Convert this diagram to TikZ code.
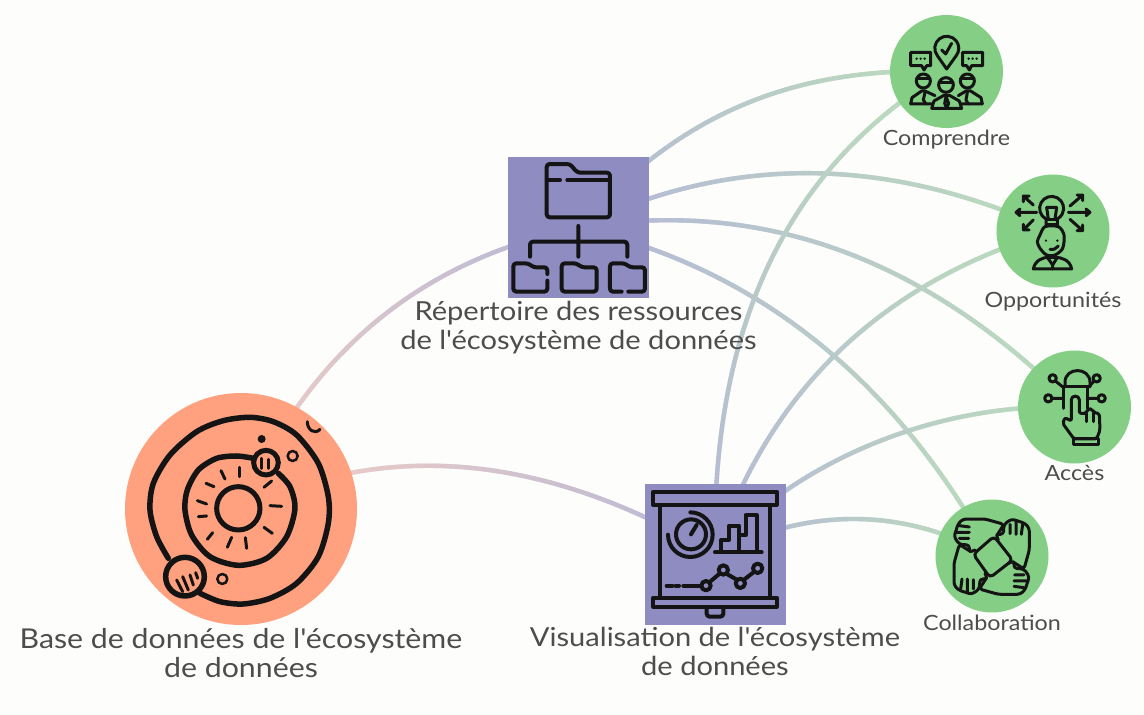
\documentclass[tikz,border=0pt]{standalone}
\usepackage{fontspec}
\newfontfamily\labelfont{Lato}[FakeStretch=1.11]
\definecolor{pagebg}{HTML}{FDFDFB}
\definecolor{dbfill}{HTML}{FFA07F}
\definecolor{toolfill}{HTML}{8F8CC1}
\definecolor{goalfill}{HTML}{85CE85}
\definecolor{dbline}{HTML}{F6CFC3}
\definecolor{toolline}{HTML}{B6B8D7}
\definecolor{goalline}{HTML}{BBDDBB}
\definecolor{ink}{HTML}{141414}
\definecolor{labelgrey}{HTML}{4D4D4D}
\usetikzlibrary{positioning,backgrounds,decorations.markings}
\tikzset{
  dbnode/.style={circle,fill=dbfill,minimum size=232pt,inner sep=0pt,outer sep=0pt},
  toolnode/.style={rectangle,fill=toolfill,minimum size=141pt,inner sep=0pt,outer sep=0pt},
  goalnode/.style={circle,fill=goalfill,minimum size=113pt,inner sep=0pt,outer sep=0pt},
  biglabel/.style={align=center,text=labelgrey,font=\labelfont\fontsize{26.2}{29}\selectfont,inner sep=0pt},
  hugelabel/.style={biglabel,font=\labelfont\fontsize{27.3}{29}\selectfont},
  smalllabel/.style={align=center,text=labelgrey,font=\labelfont\fontsize{21}{24}\selectfont,inner sep=0pt},
  fadelink/.style 2 args={
    decoration={markings,mark=between positions 0 and 1 step 1.5pt with {
      \pgfmathsetmacro\mixpct{min(100,100*(\pgfkeysvalueof{/pgf/decoration/mark info/distance from start}/\pgfdecoratedpathlength))}
      \fill[color=#2!\mixpct!#1] (-1.2pt,-2.2pt) rectangle (1.2pt,2.2pt);
    }},
    postaction={decorate}},
  ic/.style={draw=ink,line width=4pt,line cap=round,line join=round},
  icthin/.style={ic,line width=3pt},
  zoomed/.style={shift={(#1)},x=0.3333pt,y=-0.3333pt}
}
\begin{document}
\begin{tikzpicture}[x=1pt,y=-1pt]
  \useasboundingbox (0,0) rectangle (1144,715);
  \node[dbnode] (db) at (241,509) {};
  \node[toolnode] (repo) at (578.5,227.5) {};
  \node[toolnode] (viz) at (715,554) {};
  \node[goalnode] (comp) at (946.5,71.5) {};
  \node[goalnode] (opp) at (1053,231) {};
  \node[goalnode] (acc) at (1074.5,407) {};
  \node[goalnode] (collab) at (992,556) {};
  \node[hugelabel,below=3pt of db] (dblabel) {Base de données de l'écosystème\\de données};
  \node[biglabel,below=3pt of repo] (repolabel) {Répertoire des ressources\\de l'écosystème de données};
  \node[biglabel,below=2pt of viz] (vizlabel) {Visualisation de l'écosystème\\de données};
  \node[smalllabel,below=2pt of comp] (complabel) {Comprendre};
  \node[smalllabel,below=4pt of opp] (opplabel) {Opportunités};
  \node[smalllabel,below=2pt of acc] (acclabel) {Accès};
  \node[smalllabel,below=2pt of collab] (collablabel) {Collaboration};
  \begin{scope}[on background layer]
    \fill[pagebg] (0,0) rectangle (1144,715);
    \path[fadelink={dbline}{toolline}] (db.center) .. controls (307,354) and (420,260) .. (repo.center);
    \path[fadelink={dbline}{toolline}] (db.center) .. controls (388,439) and (546,454) .. (viz.center);
    \path[fadelink={toolline}{goalline}] (repo.center) .. controls (678,116) and (790,66) .. (comp.center);
    \path[fadelink={toolline}{goalline}] (repo.center) .. controls (729,154) and (887,155) .. (opp.center);
    \path[fadelink={toolline}{goalline}] (repo.center) .. controls (762,198) and (927,258) .. (acc.center);
    \path[fadelink={toolline}{goalline}] (repo.center) .. controls (756,268) and (894,378) .. (collab.center);
    \path[fadelink={toolline}{goalline}] (viz.center) .. controls (711,326) and (788,165) .. (comp.center);
    \path[fadelink={toolline}{goalline}] (viz.center) .. controls (769,390) and (882,282) .. (opp.center);
    \path[fadelink={toolline}{goalline}] (viz.center) .. controls (785,470) and (925,402) .. (acc.center);
    \path[fadelink={toolline}{goalline}] (viz.center) .. controls (809,507) and (902,507) .. (collab.center);
  \end{scope}
  % planets
  \begin{scope}[zoomed={110,380}]
    \draw[ic,line width=5.5pt] plot[smooth] coordinates {(270,640) (330,665) (400,672) (480,655) (560,610) (625,530) (655,430) (655,350) (625,250) (560,165) (490,125) (420,112) (340,122) (260,155) (180,225) (130,310) (120,390) (140,470) (175,535)};
    \draw[ic,line width=5.5pt] plot[smooth] coordinates {(430,235) (380,228) (320,235) (265,270) (232,330) (225,390) (245,465) (300,530) (385,556) (470,535) (530,470) (555,385) (540,320) (505,280)};
    \draw[ic,line width=5pt] (385,385) circle (65);
    \draw[ic,line width=5pt,fill=dbfill] (468,248) circle (37);
    \draw[ic,line width=5.5pt,fill=dbfill] (225,590) circle (58);
    \foreach \xa/\ya/\xb/\yb in {388/262/388/290,333/272/345/297,288/310/312/320,262/362/290/372,265/410/290/408,292/478/308/458,352/502/365/472,410/505/406/473,487/460/462/442,480/377/515/379,462/322/485/303,455/235/455/265,475/238/475/265,200/600/218/635,218/590/235/630,240/585/250/615,257/578/263/595}
      \draw[ic,line width=3pt] (\xa,\ya) -- (\xb,\yb);
    \fill[ink] (455,177) circle (12);
    \draw[ic,line width=2.5pt] (548,228) circle (15);
    \draw[ic,line width=2.5pt] (337,597) circle (15);
    \draw[ic,line width=3pt] (592,125) .. controls (592,150) and (615,165) .. (630,148);
  \end{scope}
  % folder tree
  \begin{scope}[zoomed={500,150},rounded corners=3pt]
    \draw[ic] (140,90) -- (140,42) -- (210,42) -- (232,68) -- (330,68) -- (330,202) -- (140,202) -- cycle;
    \draw[ic] (142,90) -- (180,90) (202,90) -- (328,90);
    \draw[ic] (235,228) -- (235,320) (90,320) -- (90,275) -- (382,275) -- (382,320);
    \draw[ic] (142,372) -- (142,352) -- (100,352) -- (85,340) -- (40,340) -- (40,425) -- (142,425) -- (142,392);
    \draw[ic] (185,340) -- (230,340) -- (245,352) -- (290,352) -- (290,425) -- (185,425) -- cycle;
    \draw[ic] (365,425) -- (330,425) -- (330,340) -- (375,340) -- (390,352) -- (435,352) -- (435,425) -- (385,425);
  \end{scope}
  % projection screen
  \begin{scope}[zoomed={635,475}]
    \draw[ic] (55,50) rectangle (425,90);
    \draw[ic] (55,368) rectangle (425,395);
    \draw[ic] (75,90) -- (75,368) (405,90) -- (405,368);
    \draw[ic,rounded corners=3pt] (215,400) -- (215,425) -- (265,425) -- (265,400);
    \draw[ic] (168,178) circle (45);
    \draw[ic] (168,178) -- (185,150);
    \draw[ic] (166,112) arc (-90:180:67);
    \draw[ic] (240,232) -- (380,232);
    \draw[ic] (258,230) -- (258,195) -- (282,195) -- (282,152) -- (312,152) -- (312,230);
    \draw[ic] (315,180) -- (332,180) -- (332,120) -- (365,120) -- (365,230);
    \draw[ic] (95,332) -- (112,332) (122,332) -- (132,332) (145,332) -- (199,332);
    \draw[ic] (213,332) circle (14) (265,285) circle (14) (316,325) circle (14) (368,280) circle (14);
    \draw[ic] (223,322) -- (255,295) (274,296) -- (307,315) (326,315) -- (358,290);
  \end{scope}
  % meeting
  \begin{scope}[zoomed={880,5}]
    \draw[icthin] (200,192) -- (172,152) arc (142:398:36) -- cycle;
    \draw[icthin] (185,135) -- (197,147) -- (215,115);
    \draw[icthin] (92,142) -- (152,142) -- (152,182) -- (140,182) -- (132,195) -- (125,182) -- (92,182) -- cycle;
    \draw[icthin] (248,142) -- (308,142) -- (308,182) -- (275,182) -- (268,195) -- (260,182) -- (248,182) -- cycle;
    \foreach \dotx in {110,122,134,266,278,290}
      \fill[ink] (\dotx,161) circle (4);
    \draw[icthin,fill=goalfill] (130,228) circle (21) (262,228) circle (21);
    \draw[icthin] (110,220) -- (150,220) (242,220) -- (282,220);
    \draw[icthin] (92,297) -- (96,278) -- (125,258) -- (135,258) -- (165,272) (92,297) -- (155,297);
    \draw[icthin] (307,297) -- (303,278) -- (272,258) -- (258,258) -- (235,272) (307,297) -- (245,297);
    \draw[icthin] (135,262) -- (130,285) -- (138,297) (262,262) -- (258,285) -- (265,297);
    \draw[icthin,fill=goalfill] (155,310) -- (162,288) -- (190,272) -- (210,272) -- (238,288) -- (245,310) -- cycle;
    \draw[icthin,fill=goalfill] (198,240) circle (22);
    \draw[icthin] (177,232) -- (219,232);
    \draw[icthin] (198,275) -- (194,295) -- (200,310) -- (206,295) -- cycle;
  \end{scope}
  % idea
  \begin{scope}[zoomed={990,170}]
    \draw[icthin] (168,147) arc (118:422:36) -- (202,180) -- (168,180) -- cycle;
    \draw[icthin] (168,150) -- (202,150) (170,165) -- (200,165);
    \draw[icthin] (175,148) -- (170,112) (195,148) -- (200,112) (170,112) -- (200,112);
    \draw[icthin,fill=goalfill] plot[smooth cycle] coordinates {(150,195) (165,170) (205,170) (222,195) (218,235) (195,255) (170,255) (150,235) (142,215)};
    \fill[ink] (168,212) circle (4) (202,212) circle (4);
    \draw[icthin] (180,238) .. controls (190,240) and (200,236) .. (205,228);
    \draw[icthin] (130,297) .. controls (135,270) and (160,262) .. (175,262) -- (195,262) .. controls (215,262) and (240,270) .. (245,297) -- cycle;
    \draw[icthin] (172,262) -- (188,285) -- (202,262) (188,285) -- (188,297);
    \foreach \xa/\ya/\xb/\yb/\xc/\yc/\xd/\yd in {140/127/78/127/90/117/90/137, 130/105/100/78/100/95/117/78, 130/150/100/180/100/163/117/180, 235/127/300/127/288/117/288/137, 240/108/278/75/261/75/278/92, 240/148/278/182/261/182/278/165}
      \draw[icthin] (\xa,\ya) -- (\xb,\yb) (\xc,\yc) -- (\xb,\yb) -- (\xd,\yd);
  \end{scope}
  % access
  \begin{scope}[zoomed={1010,345}]
    \draw[icthin] (165,125) -- (165,112) .. controls (165,65) and (240,65) .. (240,112) -- (240,125);
    \draw[icthin] (160,125) -- (240,125) (160,125) -- (160,190) (232,125) -- (232,190);
    \draw[icthin] (128,100) circle (11) (260,100) circle (11) (115,160) circle (11) (275,160) circle (11);
    \draw[icthin] (136,108) -- (160,127) (252,108) -- (235,127) (126,160) -- (160,160) (232,160) -- (264,160);
    \draw[icthin,fill=goalfill,rounded corners=2pt] (184,228) -- (184,170) .. controls (184,150) and (208,150) .. (208,170) -- (208,205) -- (230,205) -- (232,192) -- (248,192) -- (250,203) -- (268,205) -- (270,255) -- (260,282) -- (192,282) -- (158,235) -- (165,218) -- cycle;
    \draw[icthin] (230,205) -- (230,230) (250,203) -- (250,230);
    \draw[icthin] (190,282) rectangle (264,298);
  \end{scope}
  % hands
  \begin{scope}[zoomed={930,495}]
    \draw[icthin,rounded corners=4pt] (192,124) -- (248,195) -- (180,248) -- (130,178) -- cycle;
    \foreach \turn in {0,-90,-180,-270}{
      \begin{scope}[rotate around={\turn:(185,185)}]
        \draw[icthin,rounded corners=3pt] (200,122) -- (222,88) -- (165,72) -- (100,72) -- (85,85) -- (72,125) -- (88,148) -- (118,150) -- (118,172) -- (135,165);
        \draw[icthin] (88,92) -- (118,96) (80,112) -- (118,112) (88,130) -- (116,130);
      \end{scope}
    }
  \end{scope}
\end{tikzpicture}
\end{document}
